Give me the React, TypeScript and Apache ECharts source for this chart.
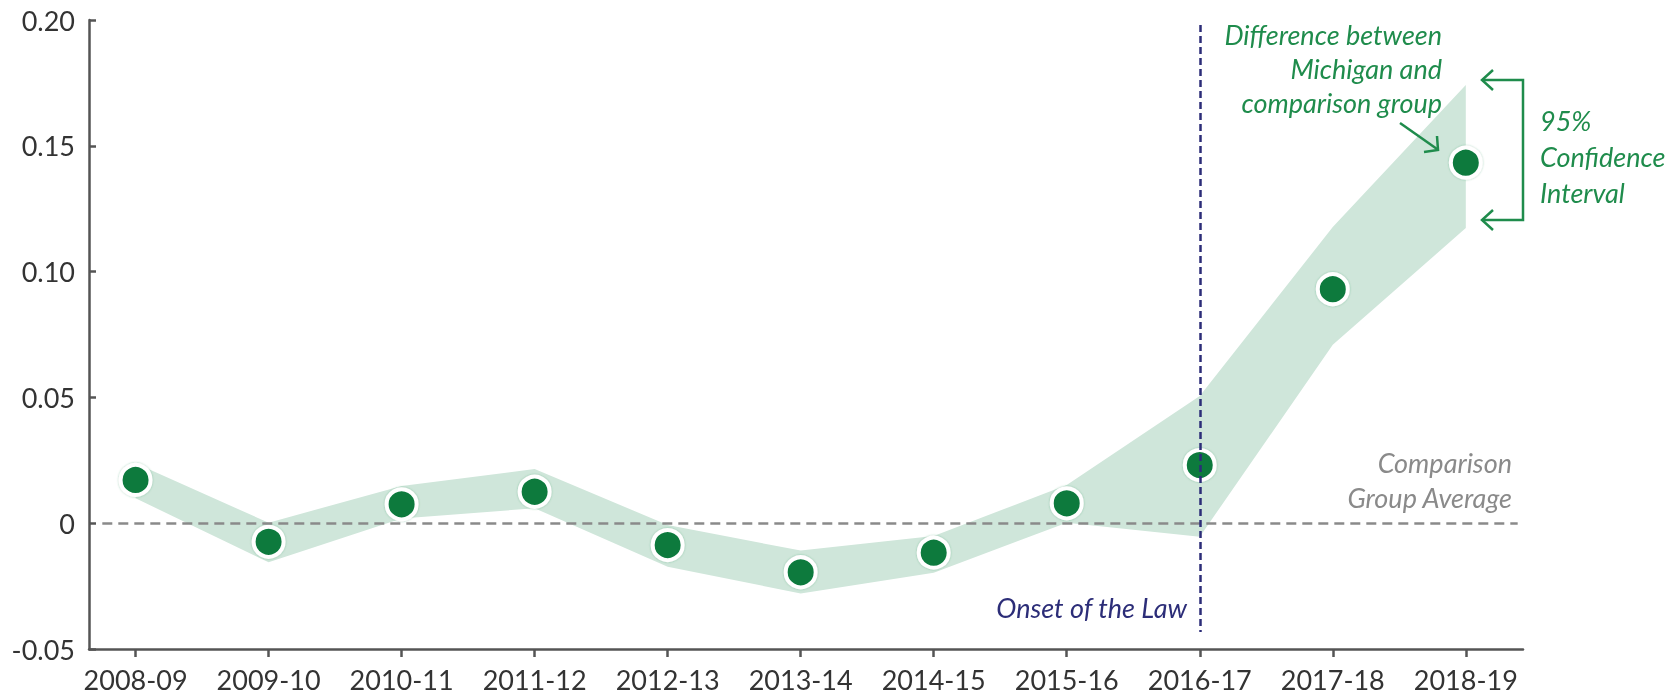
import React, { useEffect, useRef } from "react";
import * as echarts from "echarts";

const categories = ["2008-09", "2009-10", "2010-11", "2011-12", "2012-13", "2013-14", "2014-15", "2015-16", "2016-17", "2017-18", "2018-19"];
const difference = [0.0172, -0.0074, 0.0075, 0.0125, -0.0087, -0.0195, -0.0117, 0.0079, 0.0231, 0.093, 0.1433];
const ciUpper = [0.0238, 0.0002, 0.0148, 0.0215, -0.0007, -0.0109, -0.0051, 0.0152, 0.0506, 0.1177, 0.1742];
const ciLower = [0.0099, -0.0155, 0.0019, 0.0059, -0.0173, -0.0279, -0.0197, 0.0002, -0.0054, 0.0709, 0.1173];
const yTicks = [-0.05, 0, 0.05, 0.1, 0.15, 0.2];
const onsetIndex = 8;

const GREEN_TXT = "#1f8c4c";
const GREEN_DOT = "#0b7a3e";
const NAVY = "#2c2d78";
const FONT = "Lato, 'Open Sans', sans-serif";

export default function App() {
  const ref = useRef<HTMLDivElement>(null);
  useEffect(() => {
    if (!ref.current) return;
    const chart = echarts.init(ref.current, undefined, { renderer: "svg" });
    const idx = categories.map((_, i) => i);
    const option: any = {
      animation: false,
      grid: { left: 89, right: 156, top: 20, bottom: 49 },
      xAxis: {
        type: "value",
        min: -0.35,
        max: 10.43,
        splitLine: { show: false },
        axisLine: { show: true, onZero: false, lineStyle: { color: "#555", width: 2.5 } },
        axisTick: { show: true, customValues: idx, length: 8, lineStyle: { color: "#555", width: 2.5 } },
        axisLabel: {
          customValues: idx,
          formatter: (v: number) => categories[Math.round(v)] ?? "",
          fontSize: 27,
          color: "#333",
          fontFamily: FONT,
          margin: 17,
        },
      },
      yAxis: {
        type: "value",
        min: yTicks[0],
        max: yTicks[yTicks.length - 1],
        interval: 0.05,
        splitLine: { show: false },
        axisLine: { show: true, onZero: false, lineStyle: { color: "#555", width: 2.5 } },
        axisTick: { show: true, inside: true, length: 7, lineStyle: { color: "#555", width: 2.5 } },
        axisLabel: {
          formatter: (v: number) => (Math.abs(v) < 1e-9 ? "0" : v.toFixed(2)),
          fontSize: 27,
          color: "#333",
          fontFamily: FONT,
          margin: 14,
        },
      },
      series: [
        {
          type: "custom",
          silent: true,
          z: 1,
          data: [[0, 0]],
          renderItem: (params: any, api: any) => {
            const pts: number[][] = [];
            for (let i = 0; i < categories.length; i++) pts.push(api.coord([i, ciUpper[i]]));
            for (let i = categories.length - 1; i >= 0; i--) pts.push(api.coord([i, ciLower[i]]));
            return { type: "polygon", shape: { points: pts }, style: { fill: "#cfe6da" } };
          },
        },
        {
          type: "line",
          data: [],
          z: 2,
          silent: true,
          markLine: {
            silent: true,
            symbol: ["none", "none"],
            label: { show: false },
            data: [
              [
                { coord: [-0.25, 0], lineStyle: { color: "#8a8a8a", width: 2.5, type: [10, 6] } },
                { coord: [10.39, 0] },
              ],
              [
                { coord: [onsetIndex, 0.198], lineStyle: { color: NAVY, width: 2.5, type: [7, 4] } },
                { coord: [onsetIndex, -0.0432] },
              ],
            ],
          },
        },
        {
          type: "scatter",
          z: 3,
          symbol: "circle",
          symbolSize: 30,
          data: difference.map((v, i) => [i, v]),
          itemStyle: {
            color: GREEN_DOT,
            borderColor: "#ffffff",
            borderWidth: 4,
            shadowBlur: 2,
            shadowColor: "rgba(30,140,76,0.35)",
            opacity: 1,
          },
        },
      ],
      graphic: {
        elements: [
          ...["Difference between", "Michigan and", "comparison group"].map((t, i) => ({
            type: "text",
            z: 100,
            x: 1442,
            y: 34 + i * 34,
            style: { text: t, fill: GREEN_TXT, font: `italic 27px ${FONT}`, align: "right", verticalAlign: "middle" },
          })),
          { type: "line", z: 100, shape: { x1: 1400, y1: 123, x2: 1437, y2: 149 }, style: { stroke: GREEN_TXT, lineWidth: 2.5 } },
          { type: "polyline", z: 100, shape: { points: [[1424, 152], [1438, 150], [1437, 136]] }, style: { stroke: GREEN_TXT, lineWidth: 2.5, fill: null } },
          { type: "polyline", z: 100, shape: { points: [[1482, 80], [1523, 80], [1523, 220], [1482, 220]] }, style: { stroke: GREEN_TXT, lineWidth: 2.5, fill: null } },
          { type: "polyline", z: 100, shape: { points: [[1493, 70], [1482, 80], [1493, 90]] }, style: { stroke: GREEN_TXT, lineWidth: 2.5, fill: null } },
          { type: "polyline", z: 100, shape: { points: [[1493, 210], [1482, 220], [1493, 230]] }, style: { stroke: GREEN_TXT, lineWidth: 2.5, fill: null } },
          ...["95%", "Confidence", "Interval"].map((t, i) => ({
            type: "text",
            z: 100,
            x: 1540,
            y: 120 + i * 36,
            style: { text: t, fill: GREEN_TXT, font: `italic 27px ${FONT}`, align: "left", verticalAlign: "middle" },
          })),
          ...["Comparison", "Group Average"].map((t, i) => ({
            type: "text",
            z: 100,
            x: 1512,
            y: 462 + i * 35,
            style: { text: t, fill: "#8a8a8a", font: `italic 27px ${FONT}`, align: "right", verticalAlign: "middle" },
          })),
          {
            type: "text",
            z: 100,
            x: 1187,
            y: 607,
            style: { text: "Onset of the Law", fill: NAVY, font: `italic 27px ${FONT}`, align: "right", verticalAlign: "middle" },
          },
        ],
      },
    };
    chart.setOption(option);
    return () => chart.dispose();
  }, []);
  return <div ref={ref} style={{ position: "fixed", left: 0, top: 0, width: 1679, height: 698 }} />;
}
